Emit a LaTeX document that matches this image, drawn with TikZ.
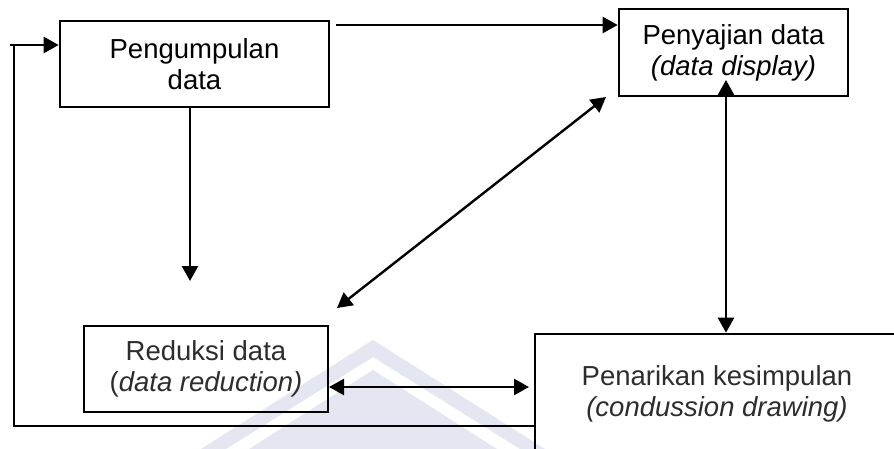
\documentclass[tikz,border=0pt]{standalone}
\usepackage{fontspec}
\setmainfont{Liberation Sans}
\usetikzlibrary{arrows.meta,calc}
\definecolor{wm}{RGB}{228,230,242}
\definecolor{txtgray}{RGB}{45,45,45}
\tikzset{
  box/.style={draw=black, line width=2.6pt, rectangle, align=center, inner sep=0pt,
              font=\fontsize{27.5}{31}\selectfont},
  arr/.style={line width=2.4pt, -{Triangle[length=15pt,width=16pt]}},
  darr/.style={line width=2.4pt, {Triangle[length=15pt,width=16pt]}-{Triangle[length=15pt,width=16pt]}},
  thin line/.style={line width=1.2pt}
}
\begin{document}
\begin{tikzpicture}[x=1pt,y=-1pt]
\useasboundingbox (0,0) rectangle (894,449);
\clip (0,0) rectangle (894,449);
\fill[white] (0,0) rectangle (894,449);
% faint watermark
\fill[wm] (373,340) -- (545,449) -- (520,449) -- (373,357) -- (226,449) -- (201,449) -- cycle;
\fill[wm] (373,370) -- (497,449) -- (249,449) -- cycle;

\node[box, minimum width=269pt, minimum height=86pt] (A) at (194.5,64) {Pengumpulan\\data};
\node[box, minimum width=229pt, minimum height=87pt] (B) at (733.5,52.5) {Penyajian data\\\textit{(data display)}};
\node[box, minimum width=244pt, minimum height=86pt, text=txtgray] (C) at (206,369) {Reduksi data\\(\textit{data reduction)}};
\node[box, minimum width=364pt, minimum height=120pt, text=txtgray] (D) at (717,394) {Penarikan kesimpulan\\\textit{(condussion drawing)}};

\coordinate (topS) at (336,25);
\draw[arr] (topS) -- (B.west |- topS);

\coordinate (downE) at (190,281);
\draw[arr] (A.south -| downE) -- (downE);

\coordinate (dg1) at (337,308);
\coordinate (dg2) at (606,97);
\draw[darr] (dg1) -- (dg2);

\coordinate (vt) at (726,80);
\draw[darr] (vt) -- (D.north -| vt);

\coordinate (hz1) at (329,387);
\coordinate (hz2) at (529,387);
\draw[darr] (hz1) -- (hz2);

\coordinate (fbR) at (535,426);
\coordinate (fbL) at (14,426);
\coordinate (fbT) at (14,45);
\draw[thin line] (D.west |- fbR) -- (fbL) -- (fbT);
\coordinate (fbA) at (10,45);
\draw[arr] (fbA) -- (A.west |- fbA);
\end{tikzpicture}
\end{document}
